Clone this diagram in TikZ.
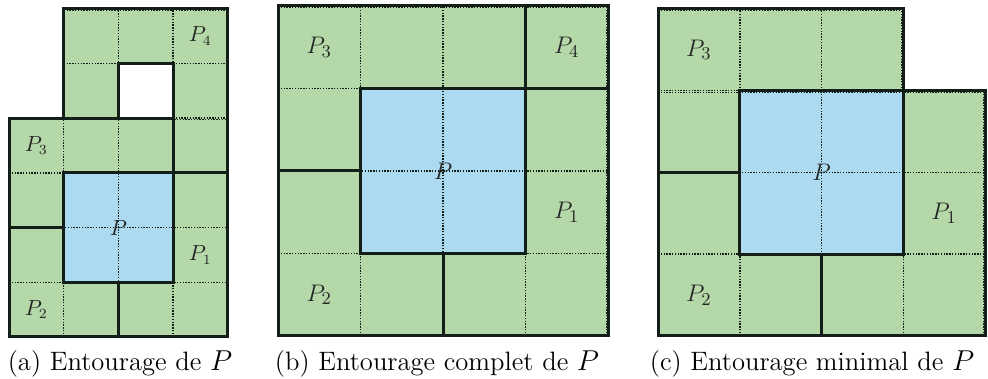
\documentclass[tikz,border=0pt]{standalone}
\usepackage{amsmath,amssymb}
\usepackage{tikz}
\usetikzlibrary{positioning}
\definecolor{vert}{RGB}{180,216,168}
\definecolor{bleu}{RGB}{172,218,240}
\definecolor{trait}{RGB}{20,30,25}

\begin{document}
\begin{tikzpicture}[x=0.5pt,y=0.5pt,
  bord/.style={line width=1.5pt,trait,line cap=rect},
  grille/.style={line width=0.75pt,trait,step=1,dash pattern=on 0.7pt off 0.7pt},
  etiqa/.style={text=black!85,inner sep=0pt,font=\fontsize{10.5}{12}\selectfont},
  etiqb/.style={text=black!85,inner sep=0pt,font=\fontsize{13}{15}\selectfont},
  legende/.style={anchor=base,inner sep=0pt,font=\fontsize{13.3}{16}\selectfont}]
  \useasboundingbox (0,0) rectangle (988,379);

  % (a) entourage
  \begin{scope}[shift={(9,42)},scale=54.7]
    \fill[vert] (0,0)--(4,0)--(4,6)--(1,6)--(1,4)--(0,4)--cycle;
    \fill[white] (2,4) rectangle (3,5);
    \fill[bleu] (1,1) rectangle (3,3);
    \draw[grille] (0,0) grid (4,4);
    \draw[grille] (1,4) grid (4,6);
    \draw[bord] (0,0)--(4,0)--(4,6)--(1,6)--(1,4)--(0,4)--cycle;
    \draw[bord] (1,4)--(3,4);
    \draw[bord] (3,3)--(3,5)--(2,5)--(2,4);
    \draw[bord] (1,3)--(4,3);
    \draw[bord] (1,1) rectangle (3,3);
    \draw[bord] (0,2)--(1,2);
    \draw[bord] (2,0)--(2,1);
    \node[etiqa] (Pa)  at (2,2)     {$P$};
    \node[etiqa] (Pa1) at (3.5,1.5) {$P_1$};
    \node[etiqa] (Pa2) at (0.5,0.5) {$P_2$};
    \node[etiqa] (Pa3) at (0.5,3.5) {$P_3$};
    \node[etiqa] (Pa4) at (3.5,5.5) {$P_4$};
  \end{scope}

  % (b) entourage complet
  \begin{scope}[shift={(278,43)},scale=82.5]
    \fill[vert] (0,0) rectangle (4,4);
    \fill[bleu] (1,1) rectangle (3,3);
    \draw[grille] (0,0) grid (4,4);
    \draw[bord] (0,0) rectangle (4,4);
    \draw[bord] (1,1) rectangle (3,3);
    \draw[bord] (3,3)--(3,4);
    \draw[bord] (3,3)--(4,3);
    \draw[bord] (0,2)--(1,2);
    \draw[bord] (2,0)--(2,1);
    \node[etiqb] (Pb)  at (2,2)     {$P$};
    \node[etiqb] (Pb1) at (3.5,1.5) {$P_1$};
    \node[etiqb] (Pb2) at (0.5,0.5) {$P_2$};
    \node[etiqb] (Pb3) at (0.5,3.5) {$P_3$};
    \node[etiqb] (Pb4) at (3.5,3.5) {$P_4$};
  \end{scope}

  % (c) entourage minimal
  \begin{scope}[shift={(658,43)},scale=81.75]
    \fill[vert] (0,0)--(4,0)--(4,3)--(3,3)--(3,4)--(0,4)--cycle;
    \fill[bleu] (1,1) rectangle (3,3);
    \draw[grille] (0,0) grid (4,3);
    \draw[grille] (0,3) grid (3,4);
    \draw[bord] (0,0)--(4,0)--(4,3)--(3,3)--(3,4)--(0,4)--cycle;
    \draw[bord] (1,1) rectangle (3,3);
    \draw[bord] (0,2)--(1,2);
    \draw[bord] (2,0)--(2,1);
    \node[etiqb] (Pc)  at (2,2)     {$P$};
    \node[etiqb] (Pc1) at (3.5,1.5) {$P_1$};
    \node[etiqb] (Pc2) at (0.5,0.5) {$P_2$};
    \node[etiqb] (Pc3) at (0.5,3.5) {$P_3$};
  \end{scope}

  % legendes
  \node[legende] (lega) at (120,8) {(a) Entourage de $P$};
  \node[legende] (legb) at (437,8) {(b) Entourage complet de $P$};
  \node[legende] (legc) at (812,8) {(c) Entourage minimal de $P$};
\end{tikzpicture}
\end{document}
